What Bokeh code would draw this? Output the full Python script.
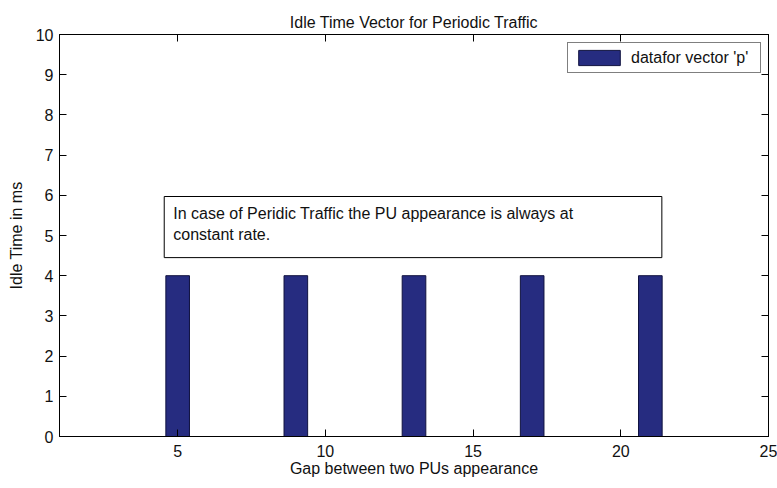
from bokeh.plotting import figure
from bokeh.models import LinearAxis, FixedTicker, Range1d, BoxAnnotation, Label
from bokeh.embed import file_html
from bokeh.resources import INLINE

# ---- data ----
gaps = [5, 9, 13, 17, 21]
idle_ms = [4, 4, 4, 4, 4]
x_ticks = [5, 10, 15, 20, 25]
y_ticks = [0, 1, 2, 3, 4, 5, 6, 7, 8, 9, 10]
series_label = "datafor vector 'p'"
title_text = "Idle Time Vector for Periodic Traffic"
x_label = "Gap between two PUs appearance"
y_label = "Idle Time in ms"
note_text = "In case of Peridic Traffic the PU appearance is always at\nconstant rate."

# ---- style ----
FONT = "Liberation Sans"
FS = "16px"
BAR_FILL = "#262C80"
BAR_LINE = "#10123F"

p = figure(width=777, height=488, output_backend="svg", toolbar_location=None,
           x_range=Range1d(1, 25), y_range=Range1d(0, 10),
           min_border_left=59, min_border_right=9, min_border_top=34, min_border_bottom=52)

p.title.text = title_text
p.title.align = "center"
p.title.text_font = FONT
p.title.text_font_size = FS
p.title.text_font_style = "normal"
p.title.text_color = "#111111"
p.title.standoff = 7

p.xgrid.visible = False
p.ygrid.visible = False
p.outline_line_color = "black"
p.outline_line_width = 1
p.background_fill_color = "white"
p.border_fill_color = "white"

r = p.vbar(x=gaps, top=idle_ms, width=0.8, fill_color=BAR_FILL, line_color=BAR_LINE,
           line_width=1, legend_label=series_label)

for ax, ticks in ((p.xaxis[0], x_ticks), (p.yaxis[0], y_ticks)):
    ax.ticker = FixedTicker(ticks=ticks)
    ax.major_tick_in = 7
    ax.major_tick_out = 0
    ax.minor_tick_line_color = None
    ax.major_label_text_font = FONT
    ax.major_label_text_font_size = FS
    ax.major_label_text_color = "#111111"
    ax.axis_label_text_font = FONT
    ax.axis_label_text_font_size = FS
    ax.axis_label_text_font_style = "normal"
    ax.axis_label_text_color = "#111111"
    ax.axis_line_color = "black"
    ax.major_tick_line_color = "black"
    ax.major_label_standoff = 6

p.xaxis[0].axis_label = x_label
p.xaxis[0].major_label_standoff = 8
p.xaxis[0].axis_label_standoff = 0
p.yaxis[0].axis_label = y_label
p.yaxis[0].axis_label_standoff = 8

# mirrored tick marks on top and right (no labels drawn)
top_ax = LinearAxis(ticker=FixedTicker(ticks=x_ticks), major_tick_in=7, major_tick_out=0,
                    minor_tick_line_color=None, major_label_text_font_size="0px",
                    major_label_text_color=None,
                    major_label_standoff=0, axis_line_color="black")
right_ax = LinearAxis(ticker=FixedTicker(ticks=y_ticks), major_tick_in=7, major_tick_out=0,
                      minor_tick_line_color=None, major_label_text_font_size="0px",
                      major_label_text_color=None,
                      major_label_standoff=0, axis_line_color="black")
p.add_layout(top_ax, "above")
p.add_layout(right_ax, "right")

# text box annotation
NOTE_LEFT, NOTE_RIGHT, NOTE_TOP, NOTE_BOTTOM = 4.545, 21.39, 5.97, 4.45
box = BoxAnnotation(left=NOTE_LEFT, right=NOTE_RIGHT, top=NOTE_TOP, bottom=NOTE_BOTTOM,
                    fill_color="white", fill_alpha=1.0, line_color="black", line_width=1,
                    line_alpha=1.0)
p.add_layout(box)
note = Label(x=4.85, y=5.75, text=note_text, text_baseline="top", text_align="left",
             text_font=FONT, text_font_size=FS, text_color="#111111", text_line_height=1.2)
p.add_layout(note)

lg = p.legend[0]
lg.location = (508, 363)
lg.margin = 0
lg.padding = 5
lg.glyph_width = 52
lg.glyph_height = 19
lg.label_height = 19
lg.label_width = 124
lg.label_standoff = 6
lg.label_text_font = FONT
lg.label_text_font_size = FS
lg.label_text_color = "#111111"
lg.border_line_color = "black"
lg.border_line_width = 1
lg.background_fill_alpha = 1.0
lg.spacing = 0

open("out.html", "w").write(file_html(p, INLINE))
